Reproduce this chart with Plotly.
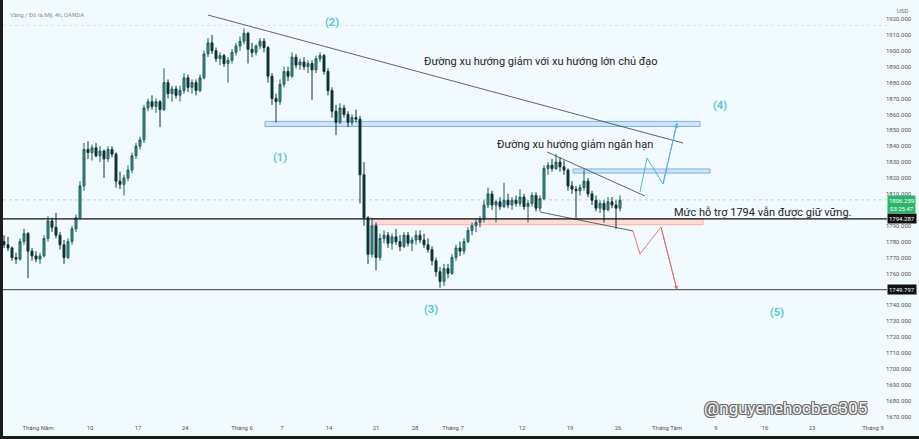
import plotly.graph_objects as go

# ---------------- data ----------------
opens = [1780,1778,1776,1770,1769,1780,1785,1774,1771,1769,1771,1782,1793,1789,1784,1778,1770,1780,1788,
         1795,1815,1838,1836,1839,1834,1837,1832,1838,1835,1818,1816,1820,1825,1834,1840,
         1844,1864,1868,1865,1868,1863,1880,1873,1876,1872,1875,1883,1877,1880,1875,1883,1898,1905,
         1900,1895,1897,1892,1894,1899,1903,1906,1911,1901,1899,1903,1906,1902,1884,1870,1868,1879,1887,1884,1896,1891,
         1893,1890,1892,1888,1895,1897,1887,1875,1862,1855,1864,1860,1855,1858,1857,1822,1795,1772,1790,1770,
         1782,1784,1779,1783,1780,1777,1784,1779,1781,1784,1781,1778,1775,1768,1761,1755,1763,1760,1770,1776,1774,1780,1787,1790,1792,1794,1803,
         1810,1803,1805,1802,1806,1803,1806,1804,1808,1802,1804,1809,1801,1807,1826,1828,1826,1830,1827,1825,1815,1813,1812,1814,1818,1810,1806,1801,1804,1800,1805,1803,1801]
highs = [1784,1783,1777,1773,1782,1788,1786,1776,1774,1773,1784,1796,1795,1798,1786,1781,1782,1790,1797,
         1818,1842,1843,1841,1842,1840,1838,1840,1840,1836,1824,1822,1828,1836,1842,1846,
         1866,1870,1872,1870,1869,1889,1882,1878,1878,1878,1886,1885,1882,1882,1885,1900,1908,1910,
         1902,1899,1898,1896,1901,1905,1909,1914,1912,1905,1904,1908,1908,1903,1886,1873,1882,1890,1890,1899,1898,1895,
         1896,1894,1894,1897,1899,1898,1889,1877,1866,1867,1866,1862,1860,1863,1859,1830,1796,1795,1792,1785,
         1787,1786,1785,1788,1784,1786,1786,1783,1787,1787,1785,1782,1777,1770,1764,1766,1766,1772,1778,1780,1782,1789,1792,1794,1796,1806,1814,
         1812,1806,1808,1817,1810,1808,1809,1813,1810,1806,1811,1811,1809,1828,1830,1832,1835,1833,1831,1826,1818,1815,1816,1825,1820,1812,1809,1806,1806,1808,1808,1806,1809]
lows = [1776,1774,1768,1766,1768,1778,1757,1768,1767,1766,1770,1780,1786,1782,1775,1766,1769,1778,1786,
        1794,1812,1832,1831,1833,1830,1820,1830,1833,1814,1813,1809,1818,1823,1832,1838,
        1842,1862,1863,1861,1852,1862,1870,1868,1870,1868,1873,1874,1873,1872,1874,1882,1896,1898,
        1893,1891,1890,1880,1892,1897,1900,1904,1892,1896,1897,1901,1899,1880,1866,1855,1866,1877,1881,1883,1889,1888,
        1888,1886,1869,1886,1893,1885,1872,1858,1847,1854,1858,1852,1853,1855,1804,1790,1766,1770,1762,1768,
        1779,1776,1775,1778,1774,1776,1777,1774,1778,1779,1776,1773,1765,1758,1751,1752,1757,1759,1768,1771,1772,1779,1784,1786,1789,1792,1801,
        1800,1792,1800,1801,1801,1800,1802,1802,1800,1792,1802,1799,1799,1806,1822,1824,1825,1824,1822,1812,1810,1795,1809,1812,1808,1803,1799,1798,1792,1799,1801,1788,1799]
closes = [1778,1776,1770,1769,1780,1785,1774,1771,1769,1771,1782,1793,1789,1784,1778,1770,1780,1788,1795,
          1815,1838,1836,1839,1834,1837,1832,1838,1835,1818,1816,1820,1825,1834,1840,1844,
          1864,1868,1865,1868,1863,1880,1873,1876,1872,1875,1883,1877,1880,1875,1883,1898,1905,1900,
          1895,1897,1892,1894,1899,1903,1906,1911,1901,1899,1903,1906,1902,1884,1870,1868,1879,1887,1884,1896,1891,1893,
          1890,1892,1888,1895,1897,1887,1875,1862,1855,1864,1860,1855,1858,1857,1822,1795,1772,1790,1770,1782,
          1784,1779,1783,1780,1777,1784,1779,1781,1784,1781,1778,1775,1768,1761,1755,1763,1760,1770,1776,1774,1780,1787,1790,1792,1794,1803,1810,
          1803,1805,1802,1806,1803,1806,1804,1808,1802,1804,1809,1801,1807,1826,1828,1826,1830,1827,1825,1815,1813,1812,1814,1818,1810,1806,1801,1804,1800,1805,1803,1801,1806]
bars = list(range(len(closes)))

x_tick_pos = [8.5, 21.5, 33.5, 45.25, 59.5, 69.5, 81.25, 93, 102.75, 112.25, 129.5, 141.5, 153.5, 165.75, 178, 190.25, 202, 217.25]
x_tick_labels = ["Tháng Năm", "10", "17", "24", "Tháng 6", "7", "14", "21", "28", "Tháng 7",
                 "12", "19", "26", "Tháng Tám", "9", "16", "23", "Tháng 9"]
# 1750 and 1800 are hidden behind the price boxes in the picture
y_ticks = [1670, 1680, 1690, 1700, 1710, 1720, 1730, 1740, 1760, 1770, 1780, 1790,
           1810, 1820, 1830, 1840, 1850, 1860, 1870, 1880, 1890, 1900, 1910, 1920, 1930]

support_level = 1794.287
low_level = 1749.797
last_price = 1806.259
countdown = "03:25:47"

# drawn objects (bar index, price)
long_trend_x = [51, 169.75]
long_trend_y = [1922.5, 1842.0]
short_trend_x = [135.75, 160.25]
short_trend_y = [1836.4, 1808.7]
channel_low_x = [134, 157.25]
channel_low_y = [1798.6, 1786.7]
bull_path_x = [159, 160.75, 164.75, 168.25]
bull_path_y = [1811.2, 1832.6, 1816.2, 1854.6]
bear_path_x = [157.25, 159, 164.25, 168.25]
bear_path_y = [1786.7, 1772.2, 1789.2, 1749.6]
zone_big = [65.25, 174, 1852.4, 1855.6]
zone_small = [142.25, 176.5, 1823.1, 1825.7]
zone_support = [92, 174.75, 1790.6, 1794.287]

wave_labels = ["(1)", "(2)", "(3)", "(4)", "(5)"]
wave_x = [69, 82, 106.75, 179, 193.25]
wave_y = [1833.2, 1917.5, 1737.0, 1865.3, 1735.1]

notes = ["Đường xu hướng giảm với xu hướng lớn chủ đạo", "Đường xu hướng giảm ngắn hạn",
         "Mức hỗ trợ 1794 vẫn được giữ vững."]
notes_x = [134.25, 142.75, 189.75]
notes_y = [1893.0, 1840.8, 1798.0]

# ---------------- figure ----------------
BG = "#f1fafc"
fig = go.Figure()

fig.add_trace(go.Candlestick(
    x=bars, open=opens, high=highs, low=lows, close=closes,
    increasing=dict(line=dict(color="#1f5d5c", width=1), fillcolor="#3f8f8a"),
    decreasing=dict(line=dict(color="#0e3236", width=1), fillcolor="#0e3236"),
    whiskerwidth=0, showlegend=False, hoverinfo="skip"))

# trend lines
for xs, ys in [(long_trend_x, long_trend_y), (short_trend_x, short_trend_y), (channel_low_x, channel_low_y)]:
    fig.add_trace(go.Scatter(x=xs, y=ys, mode="lines", line=dict(color="#3a3f44", width=0.8),
                             showlegend=False, hoverinfo="skip"))
fig.add_trace(go.Scatter(x=bull_path_x, y=bull_path_y, mode="lines", line=dict(color="#5aaee6", width=1),
                         showlegend=False, hoverinfo="skip"))
fig.add_trace(go.Scatter(x=bear_path_x, y=bear_path_y, mode="lines", line=dict(color="#e06a6a", width=0.9),
                         showlegend=False, hoverinfo="skip"))

shapes = []
# zones
for z, fc, lc in [(zone_big, "#cfe4f7", "#7fb0e3"), (zone_small, "#cfe4f7", "#7fb0e3"),
                  (zone_support, "#fbdcd6", "#f2b0a4")]:
    shapes.append(dict(type="rect", xref="x", yref="y", x0=z[0], x1=z[1], y0=z[2], y1=z[3],
                       fillcolor=fc, line=dict(color=lc, width=1), layer="below"))
# horizontal levels
shapes.append(dict(type="line", xref="paper", yref="y", x0=0, x1=1, y0=support_level, y1=support_level,
                   line=dict(color="#111111", width=1.3)))
shapes.append(dict(type="line", xref="paper", yref="y", x0=0, x1=1, y0=low_level, y1=low_level,
                   line=dict(color="#5d6468", width=1.4)))
shapes.append(dict(type="line", xref="paper", yref="y", x0=0, x1=1, y0=last_price, y1=last_price,
                   line=dict(color="#b9c4c8", width=0.8, dash="dot"), layer="below"))
shapes.append(dict(type="line", xref="paper", yref="y", x0=0, x1=1, y0=1916.0, y1=1916.0,
                   line=dict(color="#cfd8db", width=0.8, dash="dot"), layer="below"))
# dark photo frame edges
shapes.append(dict(type="rect", xref="paper", yref="paper", x0=-3/884, x1=0, y0=-16/423, y1=1,
                   fillcolor="#1b1b1b", line=dict(width=0)))
shapes.append(dict(type="rect", xref="paper", yref="paper", x0=-3/884, x1=1 + 32/884, y0=-16/423, y1=-13/423,
                   fillcolor="#1b1b1b", line=dict(width=0)))

annotations = []
for t, x, y in zip(wave_labels, wave_x, wave_y):
    annotations.append(dict(x=x, y=y, xref="x", yref="y", text=f"<b>{t}</b>", showarrow=False,
                            font=dict(size=11, color="#5cc6d8", family="Roboto")))
for t, x, y in zip(notes, notes_x, notes_y):
    annotations.append(dict(x=x, y=y, xref="x", yref="y", text=t, showarrow=False,
                            font=dict(size=11, color="#1e2326", family="Roboto")))
# arrow heads
annotations.append(dict(x=bull_path_x[-1], y=bull_path_y[-1], ax=bull_path_x[-2], ay=bull_path_y[-2],
                        xref="x", yref="y", axref="x", ayref="y", text="", showarrow=True,
                        arrowhead=2, arrowsize=0.9, arrowwidth=1, arrowcolor="#5aaee6"))
annotations.append(dict(x=bear_path_x[-1], y=bear_path_y[-1], ax=bear_path_x[-2], ay=bear_path_y[-2],
                        xref="x", yref="y", axref="x", ayref="y", text="", showarrow=True,
                        arrowhead=2, arrowsize=0.9, arrowwidth=0.9, arrowcolor="#e06a6a"))
# price labels on the axis
for val in [support_level, low_level]:
    annotations.append(dict(x=1, y=val, xref="paper", yref="y", xanchor="left", yanchor="middle",
                            text=f"{val:.3f}", showarrow=False, bgcolor="#111111", borderpad=1,
                            font=dict(size=6, color="#ffffff", family="Roboto")))
annotations.append(dict(x=1, y=1803.6, xref="paper", yref="y", xanchor="left", yanchor="middle",
                        text=f"{last_price:.3f}<br>{countdown}", showarrow=False, bgcolor="#2cb56a",
                        borderpad=1, font=dict(size=6, color="#ffffff", family="Roboto")))
annotations.append(dict(x=1, y=1925.5, xref="paper", yref="y", xanchor="left", text="USD", showarrow=False,
                        xshift=8, font=dict(size=6, color="#666666", family="Roboto")))
# header + watermark
annotations.append(dict(x=0.006, y=0.978, xref="paper", yref="paper", xanchor="left",
                        text="Vàng / Đô la Mỹ, 4h, OANDA", showarrow=False,
                        font=dict(size=6, color="#8a9396", family="Roboto")))
annotations.append(dict(x=0.885, y=0.035, xref="paper", yref="paper", xanchor="center", yanchor="middle",
                        text="@nguyenehocbac305", showarrow=False,
                        font=dict(size=17, color="#f7f7f7", family="Roboto",
                                  shadow="-1px -1px 0 #6b6b6b, 1px -1px 0 #6b6b6b, -1px 1px 0 #6b6b6b, 1px 1px 0 #6b6b6b")))

fig.update_layout(
    width=919, height=439,
    margin=dict(l=3, r=32, t=0, b=16),
    paper_bgcolor=BG, plot_bgcolor=BG,
    font=dict(family="Roboto", size=6, color="#555555"),
    shapes=shapes, annotations=annotations,
    xaxis=dict(range=[-0.25, 220.75], rangeslider=dict(visible=False), showgrid=False, zeroline=False,
               tickmode="array", tickvals=x_tick_pos, ticktext=x_tick_labels, ticks="",
               tickfont=dict(size=6, color="#555555"), showline=False, fixedrange=True),
    yaxis=dict(range=[1665.91, 1931.95], side="right", showgrid=False, zeroline=False,
               tickmode="array", tickvals=y_ticks, tickformat=".3f", ticks="",
               ticklabelstandoff=-2,
               tickfont=dict(size=6, color="#555555"), showline=False, fixedrange=True),
)

fig.write_html("out.html", config={"displayModeBar": False},
               post_script="document.body.style.margin='0';document.body.style.overflow='hidden';")
